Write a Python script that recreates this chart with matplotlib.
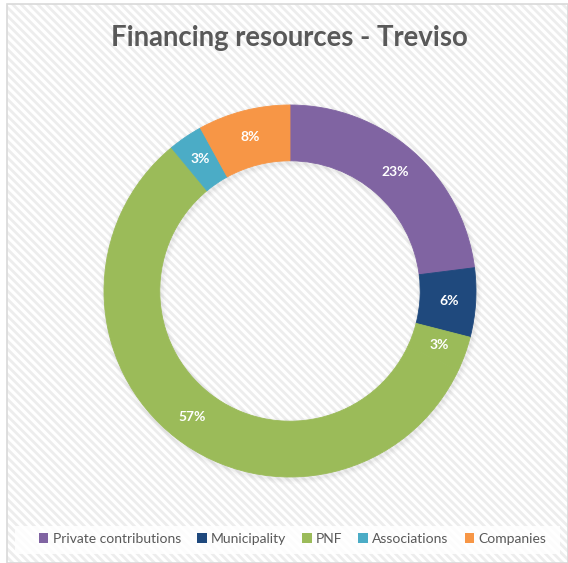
import numpy as np
import matplotlib.pyplot as plt
from matplotlib.patches import Rectangle, Patch

# shares of the ring, clockwise from 12 o'clock
slice_values = [23, 6, 3, 57, 3, 8]
slice_group = [0, 1, 2, 2, 3, 4]   # which legend entry each slice belongs to

categories = ["Private contributions", "Municipality", "PNF", "Associations", "Companies"]
colors = ["#8064A2", "#1F497D", "#9BBB59", "#4BACC6", "#F79646"]

W, H = 568, 563
plt.rcParams["font.family"] = ["Lato", "DejaVu Sans"]
plt.rcParams["hatch.linewidth"] = 2.0

fig = plt.figure(figsize=(W / 100, H / 100), dpi=100)
fig.patch.set_facecolor("white")

# striped chart background with a thin frame
stripes = Rectangle((7 / W, 0), 1 - 7 / W, 1 - 4 / H, transform=fig.transFigure,
                    facecolor="white", edgecolor="#ededed", hatch="\\\\\\\\", lw=0, zorder=-3)
frame = Rectangle((7 / W, 0), 1 - 7 / W, 1 - 4 / H, transform=fig.transFigure,
                  facecolor="none", edgecolor="#d9d9d9", lw=1.2, zorder=-2)
band = Rectangle((15 / W, 1 - 554 / H), (560 - 15) / W, 28 / H, transform=fig.transFigure,
                 facecolor="white", edgecolor="none", alpha=0.85, zorder=-1)
for p in (stripes, frame, band):
    fig.patches.append(p)

# donut
cx, cy, R = 290, 291, 186
ax = fig.add_axes([(cx - R) / W, (H - cy - R) / H, 2 * R / W, 2 * R / H])
ax.axis("off")

# soft shadow under the ring
for k, a in enumerate([0.05, 0.04, 0.03]):
    ax.pie([1], radius=1.0 + 0.008 * (k + 1), center=(0.006, -0.012), colors=["#808080"],
           wedgeprops=dict(width=0.30 + 0.016 * (k + 1), alpha=a, edgecolor="none"))

slice_colors = [colors[g] for g in slice_group]
wedges, texts = ax.pie(slice_values, colors=slice_colors, startangle=90, counterclock=False,
                       radius=1.0, wedgeprops=dict(width=0.30, linewidth=0.6))
for w, c in zip(wedges, slice_colors):
    w.set_edgecolor(c)
ax.set_xlim(-1, 1)
ax.set_ylim(-1, 1)
ax.set_aspect("equal")

for w, v in zip(wedges, slice_values):
    ang = np.deg2rad((w.theta1 + w.theta2) / 2)
    r = 0.855
    ax.text(r * np.cos(ang), r * np.sin(ang), f"{v}%", ha="center", va="center",
            color="white", fontsize=10, fontweight="bold")

fig.text(0.51, 1 - 38 / H, "Financing resources - Treviso", ha="center", va="center",
         fontsize=19.8, fontweight="bold", color="#595959")

handles = [Patch(facecolor=c, edgecolor="none") for c in colors]
fig.legend(handles, categories, loc="center", bbox_to_anchor=(0.515, 1 - 539 / H), ncol=5,
           frameon=False, fontsize=10, labelcolor="#595959", handlelength=0.7,
           handleheight=0.7, handletextpad=0.3, columnspacing=1.15)

fig.savefig("out.png", dpi=100)
